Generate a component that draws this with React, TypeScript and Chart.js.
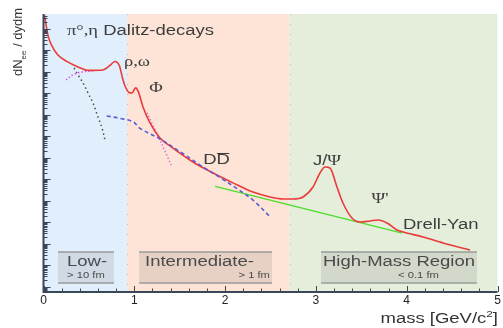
import React, { useEffect, useRef } from "react";
import { Chart, registerables } from "chart.js";
Chart.register(...registerables);

// Total dilepton yield (red)
const totalMass = [0.011, 0.028, 0.053, 0.09, 0.154, 0.256, 0.38, 0.496, 0.655, 0.732, 0.785, 0.837, 0.87, 0.898, 0.942, 0.975, 1.015, 1.045, 1.096, 1.173, 1.283, 1.426, 1.646, 1.867, 2.087, 2.307, 2.494, 2.637, 2.748, 2.858, 2.968, 3.045, 3.1, 3.155, 3.232, 3.298, 3.397, 3.486, 3.596, 3.684, 3.783, 3.893, 3.96, 4.18, 4.4, 4.697];
const totalYield = [430, 149, 42.5, 16.6, 6.3, 2.98, 1.66, 1.14, 1.2, 1.94, 2.98, 1.84, 0.51, 0.216, 0.108, 0.102, 0.175, 0.114, 0.0228, 0.00411, 8.2e-4, 2.8e-4, 6.3e-5, 1.94e-5, 6.7e-6, 2.5e-6, 1.49e-6, 1.2e-6, 1.2e-6, 1.49e-6, 4.3e-6, 1.94e-5, 3.7e-5, 3.3e-5, 4.3e-6, 7.8e-7, 1.57e-7, 1.02e-7, 1.14e-7, 1.26e-7, 9.2e-8, 4.3e-8, 3.5e-8, 2.05e-8, 1.08e-8, 5.1e-9];

// Open charm DDbar (blue dashed)
const charmMass = [0.696, 0.843, 0.986, 1.063, 1.283, 1.503, 1.756, 1.944, 2.128, 2.307, 2.494];
const charmYield = [8.7e-3, 6.7e-3, 4.7e-3, 2.3e-3, 7.4e-4, 1.9e-4, 3.7e-5, 1.2e-5, 3.7e-6, 1.07e-6, 1.8e-7];

// Drell-Yan (green)
const dyMass = [1.89, 3.95];
const dyYield = [4.6e-6, 3.1e-8];

// eta Dalitz (magenta dotted) and phi tail
const etaMass = [0.248, 0.325, 0.435, 0.545];
const etaYield = [0.41, 0.71, 0.98, 1.08];
const phiTailMass = [1.14, 1.283, 1.415];
const phiTailYield = [0.012, 6.6e-4, 3.7e-5];

// pi0 Dalitz (black dotted)
const pi0Mass = [0.336, 0.38, 0.435, 0.49, 0.545, 0.6, 0.644, 0.677];
const pi0Yield = [1.48, 0.71, 0.3, 0.102, 0.035, 7.8e-3, 2.4e-3, 6.6e-4];

// mass regions
const regionEdges = [0, 0.92, 2.71, 5];
const regionColors = ["#e1eefb", "#fde4d6", "#e5eddb"];
const regionNames = ["Low-", "Intermediate-", "High-Mass Region"];
const regionScales = ["> 10 fm", "> 1 fm", "< 0.1 fm"];

const xTickValues = [0, 1, 2, 3, 4, 5];
const Y_MIN = 5.66e-11;
const Y_MAX = 479;

const SANS = '"Liberation Sans", Arial, sans-serif';
const SERIF = '"Liberation Serif", "DejaVu Serif", serif';
const STRETCH = 1.32;
const TEXT = "#3d3d3d";

type Run = { t: string; font: string; dy?: number };

function drawRuns(ctx: CanvasRenderingContext2D, runs: Run[], x: number, y: number, align: "left" | "center" | "right", color: string, sx = STRETCH) {
  ctx.save();
  ctx.fillStyle = color;
  ctx.textBaseline = "middle";
  ctx.textAlign = "left";
  let w = 0;
  for (const r of runs) {
    ctx.font = r.font;
    w += ctx.measureText(r.t).width;
  }
  ctx.translate(x, y);
  ctx.scale(sx, 1);
  let cx = align === "left" ? 0 : align === "center" ? -w / 2 : -w;
  for (const r of runs) {
    ctx.font = r.font;
    ctx.fillText(r.t, cx, r.dy || 0);
    cx += ctx.measureText(r.t).width;
  }
  ctx.restore();
}

const pairs = (xs: number[], ys: number[]) => xs.map((m, i) => ({ x: m, y: ys[i] }));

const decor = {
  id: "decor",
  beforeDatasetsDraw(chart: any) {
    const { ctx, chartArea: a, scales } = chart;
    const x = scales.x;
    ctx.save();
    for (let i = 0; i < 3; i++) {
      const x0 = x.getPixelForValue(regionEdges[i]);
      const x1 = x.getPixelForValue(regionEdges[i + 1]);
      ctx.fillStyle = regionColors[i];
      ctx.fillRect(x0, a.top, x1 - x0, a.bottom - a.top);
    }
    // faint dotted region boundaries
    ctx.strokeStyle = "rgba(140,140,140,0.45)";
    ctx.setLineDash([1, 9]);
    ctx.lineWidth = 1;
    for (let i = 1; i < 3; i++) {
      const px = Math.round(x.getPixelForValue(regionEdges[i])) + 0.5;
      ctx.beginPath();
      ctx.moveTo(px, a.top);
      ctx.lineTo(px, a.bottom);
      ctx.stroke();
    }
    ctx.setLineDash([]);
    // region boxes
    const boxX = [[0.16, 0.776], [1.052, 2.517], [3.056, 4.774]];
    const top = a.bottom - 40;
    const bot = a.bottom - 9;
    for (let i = 0; i < 3; i++) {
      const b0 = x.getPixelForValue(boxX[i][0]);
      const b1 = x.getPixelForValue(boxX[i][1]);
      ctx.fillStyle = "rgba(100,100,100,0.14)";
      ctx.fillRect(b0, top, b1 - b0, bot - top);
      ctx.strokeStyle = "#9a9a9a";
      ctx.lineWidth = 1.5;
      ctx.beginPath();
      ctx.moveTo(b0, top);
      ctx.lineTo(b1, top);
      ctx.moveTo(b0, bot);
      ctx.lineTo(b1, bot);
      ctx.stroke();
    }
    const nameX = [0.259, 1.118, 3.078];
    const subX = [0.259, 2.494, 3.905];
    const subAlign: ("left" | "right")[] = ["left", "right", "left"];
    for (let i = 0; i < 3; i++) {
      drawRuns(ctx, [{ t: regionNames[i], font: `14px ${SANS}` }], x.getPixelForValue(nameX[i]), a.bottom - 30, "left", "#4a4a4a");
      drawRuns(ctx, [{ t: regionScales[i], font: `8.5px ${SANS}` }], x.getPixelForValue(subX[i]), a.bottom - 16.5, subAlign[i], "#4a4a4a");
    }
    ctx.restore();
  },
  afterDatasetsDraw(chart: any) {
    const { ctx, scales } = chart;
    const x = scales.x;
    const y = scales.y;
    const P = (m: number, v: number) => [x.getPixelForValue(m), y.getPixelForValue(v)];
    let p = P(0.259, 78);
    drawRuns(ctx, [{ t: "π°,η", font: `14px ${SERIF}` }, { t: " Dalitz-decays", font: `14px ${SANS}` }], p[0], p[1], "left", TEXT);
    p = P(1.03, 2.8);
    drawRuns(ctx, [{ t: "ρ,ω", font: `14px ${SERIF}` }], p[0], p[1], "center", TEXT);
    p = P(1.239, 0.166);
    drawRuns(ctx, [{ t: "Φ", font: `14px ${SERIF}` }], p[0], p[1], "center", TEXT);
    p = P(1.905, 7.8e-5);
    drawRuns(ctx, [{ t: "DD", font: `14px ${SANS}` }], p[0], p[1], "center", TEXT);
    // overline on second D
    ctx.save();
    ctx.font = `14px ${SANS}`;
    const dw = ctx.measureText("D").width * STRETCH;
    ctx.strokeStyle = TEXT;
    ctx.lineWidth = 1;
    ctx.beginPath();
    ctx.moveTo(p[0] + 0.5, p[1] - 6.5);
    ctx.lineTo(p[0] + dw - 0.5, p[1] - 6.5);
    ctx.stroke();
    ctx.restore();
    p = P(3.122, 7.0e-5);
    drawRuns(ctx, [{ t: "J/", font: `14px ${SANS}` }, { t: "Ψ", font: `14px ${SERIF}` }], p[0], p[1], "center", TEXT);
    p = P(3.706, 1.2e-6);
    drawRuns(ctx, [{ t: "Ψ'", font: `14px ${SERIF}` }], p[0], p[1], "center", TEXT);
    p = P(3.959, 7.4e-8);
    drawRuns(ctx, [{ t: "Drell-Yan", font: `14px ${SANS}` }], p[0], p[1], "left", TEXT);
  },
  afterDraw(chart: any) {
    const { ctx, chartArea: a, scales } = chart;
    const x = scales.x;
    const y = scales.y;
    ctx.save();
    const axisColor = "#3a4758";
    ctx.strokeStyle = axisColor;
    // y ticks (log)
    ctx.lineWidth = 1;
    for (let k = -11; k <= 3; k++) {
      for (let s = 1; s <= 9; s++) {
        const v = s * Math.pow(10, k);
        if (v < Y_MIN || v > Y_MAX) continue;
        const py = Math.round(y.getPixelForValue(v)) + 0.5;
        const len = s === 1 ? 7 : 4;
        ctx.beginPath();
        ctx.moveTo(a.left, py);
        ctx.lineTo(a.left + len, py);
        ctx.stroke();
      }
    }
    // x ticks
    for (let i = 0; i <= 25; i++) {
      const m = i * 0.2;
      const px = Math.round(x.getPixelForValue(m)) + 0.5;
      const len = i % 5 === 0 ? 6 : 3.5;
      ctx.beginPath();
      ctx.moveTo(px, a.bottom);
      ctx.lineTo(px, a.bottom - len);
      ctx.stroke();
    }
    // axis lines
    ctx.lineWidth = 2;
    ctx.beginPath();
    ctx.moveTo(a.left, a.top);
    ctx.lineTo(a.left, a.bottom);
    ctx.lineTo(a.right, a.bottom);
    ctx.stroke();
    ctx.restore();

    // y title (rotated)
    ctx.save();
    ctx.translate(22, 76);
    ctx.rotate(-Math.PI / 2);
    ctx.fillStyle = "#333";
    ctx.textBaseline = "alphabetic";
    ctx.textAlign = "left";
    ctx.font = `13px ${SANS}`;
    ctx.fillText("dN", 0, 0);
    let cx = ctx.measureText("dN").width;
    ctx.font = `8px ${SANS}`;
    ctx.fillText("ee", cx, 3.5);
    cx += ctx.measureText("ee").width;
    ctx.font = `13px ${SANS}`;
    ctx.fillText(" / dydm", cx, 0);
    ctx.restore();

    // x title
    drawRuns(ctx, [
      { t: "mass [GeV/c", font: `14px ${SANS}` },
      { t: "2", font: `9px ${SANS}`, dy: -4 },
      { t: "]", font: `14px ${SANS}` },
    ], 498, 319, "right", "#333");
  },
};

export default function App() {
  const ref = useRef<HTMLCanvasElement | null>(null);
  useEffect(() => {
    if (!ref.current) return;
    const chart = new Chart(ref.current, {
      type: "line",
      data: {
        datasets: [
          { label: "DDbar", data: pairs(charmMass, charmYield), borderColor: "#5b5bd8", borderWidth: 1.6, borderDash: [4, 3], pointRadius: 0, tension: 0.35, fill: false },
          { label: "total", data: pairs(totalMass, totalYield), borderColor: "#ea3b3b", borderWidth: 1.6, pointRadius: 0, cubicInterpolationMode: "monotone", fill: false },
          { label: "Drell-Yan", data: pairs(dyMass, dyYield), borderColor: "#4cdc2a", borderWidth: 1.4, pointRadius: 0, fill: false },
          { label: "eta", data: pairs(etaMass, etaYield), borderColor: "#d957ea", borderWidth: 1.5, borderDash: [1.5, 2], pointRadius: 0, tension: 0.35, fill: false },
          { label: "phi tail", data: pairs(phiTailMass, phiTailYield), borderColor: "#e86ae0", borderWidth: 1.5, borderDash: [1.5, 2], pointRadius: 0, tension: 0.3, fill: false },
          { label: "pi0", data: pairs(pi0Mass, pi0Yield), borderColor: "#505050", borderWidth: 1.5, borderDash: [1.5, 3], pointRadius: 0, tension: 0.35, fill: false },
        ],
      },
      options: {
        animation: false,
        responsive: false,
        devicePixelRatio: 1,
        parsing: true,
        layout: { padding: { left: 43.5, right: 5.5, top: 14, bottom: 0 } },
        plugins: { legend: { display: false }, tooltip: { enabled: false } },
        scales: {
          x: {
            type: "linear",
            min: 0,
            max: 5,
            afterBuildTicks: (s: any) => { s.ticks = xTickValues.map((v) => ({ value: v })); },
            afterFit: (s: any) => { s.height = 36; },
            ticks: { font: { size: 12, family: SANS }, color: "#222", padding: 1, maxRotation: 0, autoSkip: false },
            grid: { display: false, drawTicks: false },
            border: { display: false },
          },
          y: {
            type: "logarithmic",
            min: Y_MIN,
            max: Y_MAX,
            display: false,
          },
        },
      },
      plugins: [decor],
    } as any);
    return () => chart.destroy();
  }, []);
  return (
    <div style={{ position: "absolute", left: 0, top: 0, width: 503, height: 328, background: "#fff" }}>
      <canvas ref={ref} width={503} height={328} style={{ display: "block" }} />
    </div>
  );
}
